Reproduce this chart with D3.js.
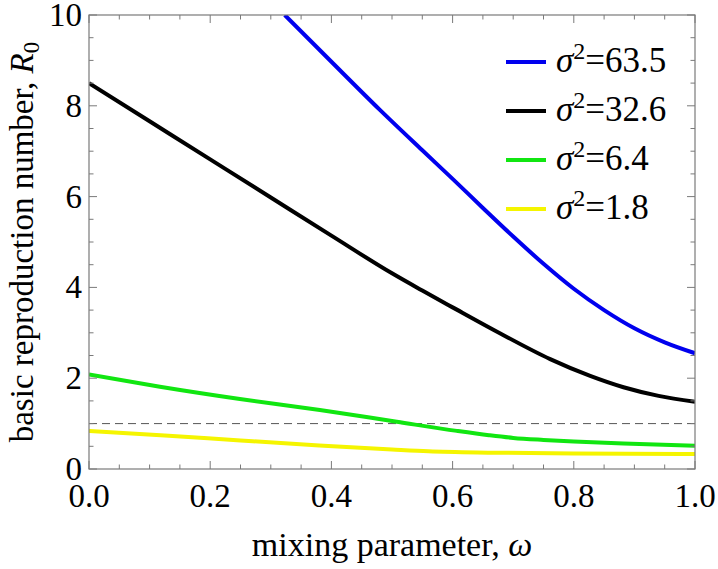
<!DOCTYPE html>
<html>
<head>
<meta charset="utf-8">
<script src="https://cdn.jsdelivr.net/npm/d3@7"></script>
<style>
  html, body { margin: 0; padding: 0; background: #fff; }
  svg { display: block; }
  text { font-family: "Liberation Serif", "Times New Roman", serif; fill: #000; }
</style>
</head>
<body>
<svg id="chart" width="718" height="569"></svg>
<script>
// ---- data ----
const omega63 = [0.323, 0.40, 0.48, 0.55, 0.60, 0.65, 0.70, 0.75, 0.80, 0.85, 0.90, 0.95, 1.0];
const r0_63   = [10.0, 8.97, 7.91, 7.02, 6.39, 5.75, 5.12, 4.52, 3.97, 3.50, 3.10, 2.79, 2.55];

const omega32 = [0.0, 0.1, 0.2, 0.3, 0.4, 0.5, 0.55, 0.6, 0.678, 0.761, 0.827, 0.882, 0.94, 1.0];
const r0_32   = [8.5, 7.66, 6.82, 5.98, 5.14, 4.31, 3.93, 3.56, 2.99, 2.42, 2.05, 1.80, 1.61, 1.48];

const omega6 = [0.0, 0.117, 0.249, 0.381, 0.508, 0.607, 0.66, 0.70, 0.75, 0.80, 0.882, 1.0];
const r0_6   = [2.08, 1.81, 1.54, 1.30, 1.04, 0.84, 0.745, 0.685, 0.64, 0.605, 0.56, 0.51];

const omega1 = [0.0, 0.125, 0.25, 0.38, 0.5, 0.56, 0.662, 0.8, 1.0];
const r0_1   = [0.84, 0.74, 0.63, 0.52, 0.43, 0.39, 0.36, 0.34, 0.33];

const seriesNames  = ["63.5", "32.6", "6.4", "1.8"];
const seriesColors = ["#0000ee", "#000000", "#11e611", "#f5f500"];

const xTickLabels = ["0.0", "0.2", "0.4", "0.6", "0.8", "1.0"];
const yTickLabels = ["0", "2", "4", "6", "8", "10"];
const thresholdR0 = 1;

// ---- layout ----
const svg = d3.select("#chart");
const W = 718, H = 569;
const margin = { left: 89, top: 15, right: W - 695, bottom: H - 469 };
const x = d3.scaleLinear().domain([0, 1]).range([margin.left, W - margin.right]);
const y = d3.scaleLinear().domain([0, 10]).range([H - margin.bottom, margin.top]);

const frameColor = "#7a7a7a";

svg.append("clipPath").attr("id", "clip").append("rect")
  .attr("x", x(0)).attr("y", y(10)).attr("width", x(1) - x(0)).attr("height", y(0) - y(10));

// threshold dashed line
svg.append("line")
  .attr("x1", x(0)).attr("x2", x(1)).attr("y1", y(thresholdR0)).attr("y2", y(thresholdR0))
  .attr("stroke", "#555").attr("stroke-width", 1).attr("stroke-dasharray", "8,5");

// curves
const series = [
  { xs: omega63, ys: r0_63 },
  { xs: omega32, ys: r0_32 },
  { xs: omega6,  ys: r0_6 },
  { xs: omega1,  ys: r0_1 }
];
const line = d3.line().x(d => x(d[0])).y(d => y(d[1])).curve(d3.curveMonotoneX);
const gLines = svg.append("g").attr("clip-path", "url(#clip)");
[3, 2, 1, 0].forEach(i => {
  const s = series[i];
  gLines.append("path")
    .datum(s.xs.map((v, k) => [v, s.ys[k]]))
    .attr("d", line)
    .attr("fill", "none")
    .attr("stroke", seriesColors[i])
    .attr("stroke-width", 4)
    .attr("stroke-linejoin", "round");
});

// frame
svg.append("rect")
  .attr("x", x(0)).attr("y", y(10)).attr("width", x(1) - x(0)).attr("height", y(0) - y(10))
  .attr("fill", "none").attr("stroke", frameColor).attr("stroke-width", 1.2);

// ticks (inward, on all four sides)
const gT = svg.append("g").attr("stroke", frameColor).attr("stroke-width", 1);
const xMajor = x.ticks(5), xMinor = d3.range(0, 1.0001, 0.05);
const yMajor = y.ticks(5), yMinor = d3.range(0, 10.0001, 0.5);
xMinor.forEach(v => {
  const major = xMajor.some(m => Math.abs(m - v) < 1e-6);
  const L = major ? 8 : 4.5;
  gT.append("line").attr("x1", x(v)).attr("x2", x(v)).attr("y1", y(0)).attr("y2", y(0) - L);
  gT.append("line").attr("x1", x(v)).attr("x2", x(v)).attr("y1", y(10)).attr("y2", y(10) + L);
});
yMinor.forEach(v => {
  const major = yMajor.some(m => Math.abs(m - v) < 1e-6);
  const L = major ? 8 : 4.5;
  gT.append("line").attr("y1", y(v)).attr("y2", y(v)).attr("x1", x(0)).attr("x2", x(0) + L);
  gT.append("line").attr("y1", y(v)).attr("y2", y(v)).attr("x1", x(1)).attr("x2", x(1) - L);
});

// tick labels
const gL = svg.append("g").style("font-size", "33px");
xMajor.forEach((v, i) => gL.append("text").attr("x", x(v)).attr("y", 507)
  .attr("text-anchor", "middle").text(xTickLabels[i]));
yMajor.forEach((v, i) => gL.append("text").attr("x", 82).attr("y", y(v) + 11)
  .attr("text-anchor", "end").text(yTickLabels[i]));

// x axis title
const xt = svg.append("text")
  .attr("x", (x(0) + x(1)) / 2).attr("y", 556)
  .attr("text-anchor", "middle").style("font-size", "34px");
xt.append("tspan").text("mixing parameter, ");
xt.append("tspan").style("font-style", "italic").text("ω");

// y axis title
const yt = svg.append("text")
  .attr("transform", `translate(33,${(y(0) + y(10)) / 2}) rotate(-90)`)
  .attr("text-anchor", "middle").style("font-size", "33px");
yt.append("tspan").text("basic reproduction number, ");
yt.append("tspan").style("font-style", "italic").text("R");
yt.append("tspan").attr("dy", 6).style("font-size", "23px").text("0");

// legend
const legendY = [62, 111, 160, 209];
const gLeg = svg.append("g");
seriesNames.forEach((nm, i) => {
  gLeg.append("line").attr("x1", 506).attr("x2", 546)
    .attr("y1", legendY[i]).attr("y2", legendY[i])
    .attr("stroke", seriesColors[i]).attr("stroke-width", 4);
  const t = gLeg.append("text")
    .attr("x", 556).attr("y", legendY[i] + 10)
    .style("font-size", "35px");
  t.append("tspan").style("font-style", "italic").text("σ");
  t.append("tspan").attr("dy", -13).style("font-size", "24px").text("2");
  t.append("tspan").attr("dy", 13).text("=" + nm);
});
</script>
</body>
</html>
